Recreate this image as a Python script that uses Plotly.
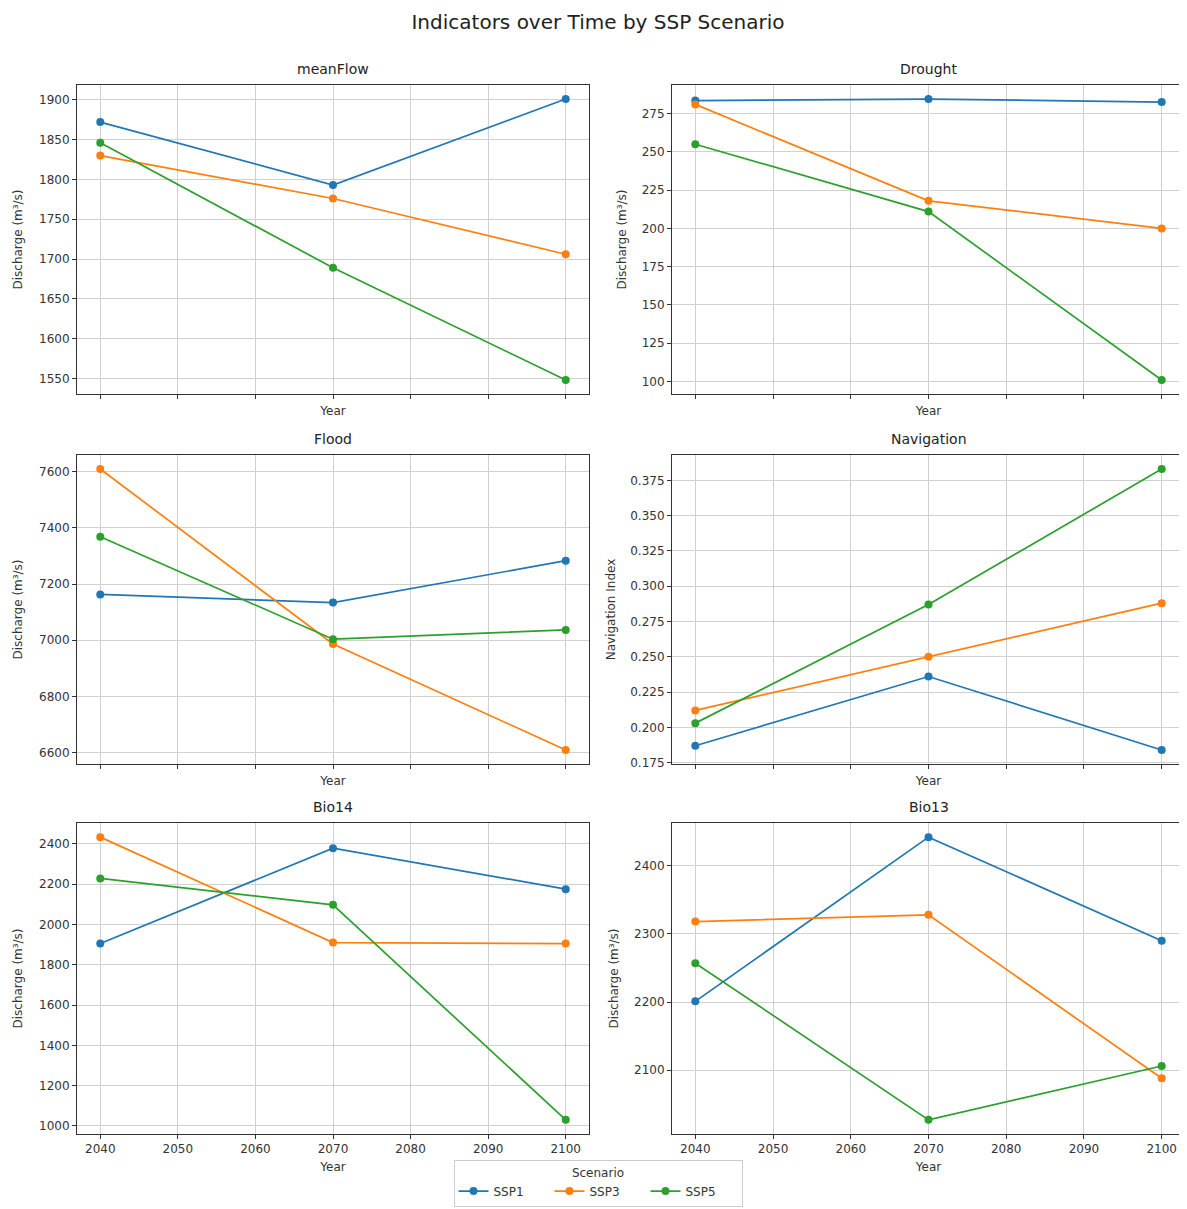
import plotly.graph_objects as go

years = [2040, 2070, 2100]
scenarios = ["SSP1", "SSP3", "SSP5"]
colors = ["#1f77b4", "#ff7f0e", "#2ca02c"]

panel_titles = ["meanFlow", "Drought", "Flood", "Navigation", "Bio14", "Bio13"]
y_titles = ["Discharge (m³/s)", "Discharge (m³/s)", "Discharge (m³/s)",
            "Navigation Index", "Discharge (m³/s)", "Discharge (m³/s)"]

meanflow_ssp1 = [1872, 1793, 1901]
meanflow_ssp3 = [1830, 1776, 1706]
meanflow_ssp5 = [1846, 1689, 1548]

drought_ssp1 = [283.5, 284.5, 282.5]
drought_ssp3 = [281, 218, 200]
drought_ssp5 = [255, 211, 101]

flood_ssp1 = [7163, 7134, 7283]
flood_ssp3 = [7609, 6987, 6610]
flood_ssp5 = [7368, 7004, 7037]

nav_ssp1 = [0.187, 0.236, 0.184]
nav_ssp3 = [0.212, 0.250, 0.288]
nav_ssp5 = [0.203, 0.287, 0.383]

bio14_ssp1 = [1905, 2378, 2175]
bio14_ssp3 = [2433, 1910, 1905]
bio14_ssp5 = [2228, 2097, 1030]

bio13_ssp1 = [2201, 2442, 2290]
bio13_ssp3 = [2318, 2328, 2088]
bio13_ssp5 = [2257, 2027, 2106]

panel_data = [
    [meanflow_ssp1, meanflow_ssp3, meanflow_ssp5],
    [drought_ssp1, drought_ssp3, drought_ssp5],
    [flood_ssp1, flood_ssp3, flood_ssp5],
    [nav_ssp1, nav_ssp3, nav_ssp5],
    [bio14_ssp1, bio14_ssp3, bio14_ssp5],
    [bio13_ssp1, bio13_ssp3, bio13_ssp5],
]

y_tickvals = [
    [1550, 1600, 1650, 1700, 1750, 1800, 1850, 1900],
    [100, 125, 150, 175, 200, 225, 250, 275],
    [6600, 6800, 7000, 7200, 7400, 7600],
    [0.175, 0.2, 0.225, 0.25, 0.275, 0.3, 0.325, 0.35, 0.375],
    [1000, 1200, 1400, 1600, 1800, 2000, 2200, 2400],
    [2100, 2200, 2300, 2400],
]
y_tickfmt = ["d", "d", "d", ".3f", "d", "d"]
x_tickvals = [2040, 2050, 2060, 2070, 2080, 2090, 2100]

# page body has an 8px margin; work in page pixels and subtract it
OFF = 8
W, H = 1187 - OFF, 1209 - OFF
col_px = [(77, 589), (672, 1185)]
row_px = [(85, 394), (455, 764), (823, 1134)]


def px_x(p):
    return (p - OFF) / W


def px_y(p):
    return 1 - (p - OFF) / H


FONT = "DejaVu Sans"
fig = go.Figure()
annotations = []

for i in range(6):
    r, c = divmod(i, 2)
    n = i + 1
    xa = "x" if n == 1 else f"x{n}"
    ya = "y" if n == 1 else f"y{n}"
    for s, (name, col) in enumerate(zip(scenarios, colors)):
        fig.add_trace(go.Scatter(
            x=years, y=panel_data[i][s], mode="lines+markers", name=name,
            line=dict(color=col, width=1.7), marker=dict(color=col, size=8),
            showlegend=(i == 0), legendgroup=name, xaxis=xa, yaxis=ya,
        ))
    allv = [v for ser in panel_data[i] for v in ser]
    lo, hi = min(allv), max(allv)
    pad = (hi - lo) * 0.05
    x0, x1 = col_px[c]
    top, bot = row_px[r]
    xd = [px_x(x0), px_x(x1)]
    yd = [px_y(bot), px_y(top)]
    axis_common = dict(
        showline=True, mirror=True, linecolor="#333333", linewidth=1,
        ticks="outside", ticklen=4, tickcolor="#333333",
        showgrid=True, gridcolor="#d0d0d0", gridwidth=1,
        zeroline=False, automargin=False,
        tickfont=dict(family=FONT, size=12, color="#333333"),
    )
    fig.update_layout({
        ("xaxis" if n == 1 else f"xaxis{n}"): dict(
            axis_common, domain=xd, anchor=ya, range=[2037, 2103],
            tickvals=x_tickvals, showticklabels=(r == 2),
            title=dict(text="Year", font=dict(family=FONT, size=12, color="#333333"),
                       standoff=8 if r < 2 else 7),
        ),
        ("yaxis" if n == 1 else f"yaxis{n}"): dict(
            axis_common, domain=yd, anchor=xa, range=[lo - pad, hi + pad],
            tickvals=y_tickvals[i], tickformat=y_tickfmt[i],
            title=dict(text=y_titles[i], font=dict(family=FONT, size=12, color="#333333"),
                       standoff=13 if c == 0 else 12),
        ),
    })
    annotations.append(dict(
        text=panel_titles[i], x=(xd[0] + xd[1]) / 2, y=yd[1] + 6 / H,
        xref="paper", yref="paper", xanchor="center", yanchor="bottom",
        showarrow=False, font=dict(family=FONT, size=14, color="#222222"),
    ))

fig.update_layout(
    width=W, height=H, autosize=False,
    margin=dict(l=0, r=0, t=0, b=0),
    paper_bgcolor="white", plot_bgcolor="white",
    title=dict(text="Indicators over Time by SSP Scenario", x=px_x(598), xanchor="center",
               y=px_y(22), yanchor="middle",
               font=dict(family=FONT, size=20, color="#222222")),
    annotations=annotations,
    legend=dict(
        orientation="h", x=px_x(598), xanchor="center", y=px_y(1160), yanchor="top",
        title=dict(text="Scenario", side="top center",
                   font=dict(family=FONT, size=12, color="#333333")),
        font=dict(family=FONT, size=12, color="#333333"),
        bordercolor="#cccccc", borderwidth=1, bgcolor="white",
        itemwidth=30, entrywidth=51, entrywidthmode="pixels",
    ),
    showlegend=True,
)

fig.write_html("out.html")
